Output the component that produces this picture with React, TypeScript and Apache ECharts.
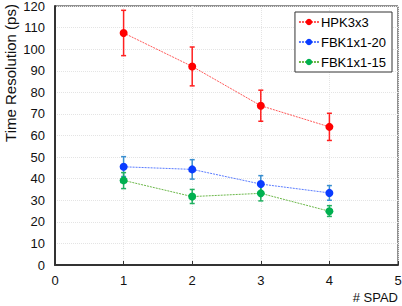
import React, { useEffect, useRef } from "react";
import * as echarts from "echarts";

const spad = [1, 2, 3, 4];
const hpkValues = [107.5, 92, 73.8, 64];
const hpkLow = [97, 83, 66.6, 57.7];
const hpkHigh = [118, 101, 81, 70.3];
const fbk20Values = [45.5, 44.3, 37.5, 33.4];
const fbk20Low = [41, 39.8, 33.7, 30];
const fbk20High = [50.2, 48.8, 41.4, 36.8];
const fbk15Values = [39.2, 31.7, 33.2, 24.9];
const fbk15Low = [35.4, 28.5, 29.7, 22.5];
const fbk15High = [42.8, 35, 36.9, 27.5];

const seriesNames = ["HPK3x3", "FBK1x1-20", "FBK1x1-15"];
const markerColors = ["#ff0000", "#0a3cff", "#00b050"];
const lineColors = ["#ff5a5a", "#5a7cff", "#6cb84a"];
const errColors = ["#ff2020", "#3a8fd0", "#20b060"];

export default function App() {
  const ref = useRef<HTMLDivElement>(null);
  useEffect(() => {
    if (!ref.current) return;
    const chart = echarts.init(ref.current, undefined, { renderer: "svg" });
    const vals = [hpkValues, fbk20Values, fbk15Values];
    const lows = [hpkLow, fbk20Low, fbk15Low];
    const highs = [hpkHigh, fbk20High, fbk15High];
    const font = "Liberation Sans, Arial, sans-serif";
    const series: any[] = [];
    vals.forEach((v, i) => {
      series.push({
        type: "custom",
        name: seriesNames[i] + "-err",
        data: spad.map((x, j) => [x, lows[i][j], highs[i][j]]),
        z: 3,
        renderItem: (params: any, api: any) => {
          const x = api.value(0);
          const lo = api.coord([x, api.value(1)]);
          const hi = api.coord([x, api.value(2)]);
          const cap = 2.5;
          const style = { stroke: errColors[i], lineWidth: 1.5 };
          return {
            type: "group",
            children: [
              { type: "line", shape: { x1: lo[0], y1: lo[1], x2: hi[0], y2: hi[1] }, style },
              { type: "line", shape: { x1: lo[0] - cap, y1: lo[1], x2: lo[0] + cap, y2: lo[1] }, style },
              { type: "line", shape: { x1: hi[0] - cap, y1: hi[1], x2: hi[0] + cap, y2: hi[1] }, style },
            ],
          };
        },
      });
      series.push({
        type: "line",
        name: seriesNames[i],
        data: spad.map((x, j) => [x, v[j]]),
        symbol: "circle",
        symbolSize: 8,
        z: 4,
        itemStyle: { color: markerColors[i] },
        lineStyle: { color: lineColors[i], width: 1, type: [2, 1] },
      });
    });
    chart.setOption({
      animation: false,
      grid: {
        left: 55,
        top: 6,
        right: 4,
        bottom: 41,
        outerBoundsMode: "none",
        containLabel: false,
        show: true,
        borderColor: "#222",
        borderWidth: 1,
      },
      legend: {
        data: seriesNames,
        orient: "vertical",
        right: 10,
        top: 12,
        padding: [3, 6, 3, 3],
        itemGap: 6,
        itemWidth: 20,
        itemHeight: 8,
        borderColor: "#333",
        borderWidth: 1,
        borderRadius: 0,
        backgroundColor: "#fff",
        textStyle: { fontFamily: font, fontSize: 13, color: "#000", padding: [0, 0, 0, -3], lineHeight: 14 },
      },
      xAxis: {
        type: "value",
        min: 0,
        max: 5,
        interval: 1,
        axisLine: { show: true, lineStyle: { color: "#333", width: 2 } },
        axisTick: { show: true, inside: true, length: 4, lineStyle: { color: "#333" } },
        axisLabel: { fontFamily: font, fontSize: 13, color: "#111", margin: 9 },
        splitLine: { show: true, lineStyle: { color: "#e4e4e4", type: [1, 1] } },
      },
      yAxis: {
        type: "value",
        min: 0,
        max: 120,
        interval: 10,
        axisLine: { show: true, lineStyle: { color: "#333", width: 2 } },
        axisTick: { show: false },
        axisLabel: { fontFamily: font, fontSize: 13, color: "#111", margin: 10 },
        splitLine: { show: true, lineStyle: { color: "#e4e4e4", type: [1, 1] } },
      },
      graphic: [
        {
          type: "text",
          right: 4,
          top: 291,
          style: { text: "# SPAD", fontFamily: font, fontSize: 13, fill: "#111" },
        },
        {
          type: "text",
          x: 10,
          y: 73,
          rotation: Math.PI / 2,
          style: {
            text: "Time Resolution (ps)",
            fontFamily: font,
            fontSize: 15,
            fill: "#111",
            align: "center",
            verticalAlign: "middle",
          },
        },
      ],
      series,
    });
    return () => chart.dispose();
  }, []);
  return <div ref={ref} style={{ width: 402, height: 306, position: "absolute", left: 0, top: 0 }} />;
}
